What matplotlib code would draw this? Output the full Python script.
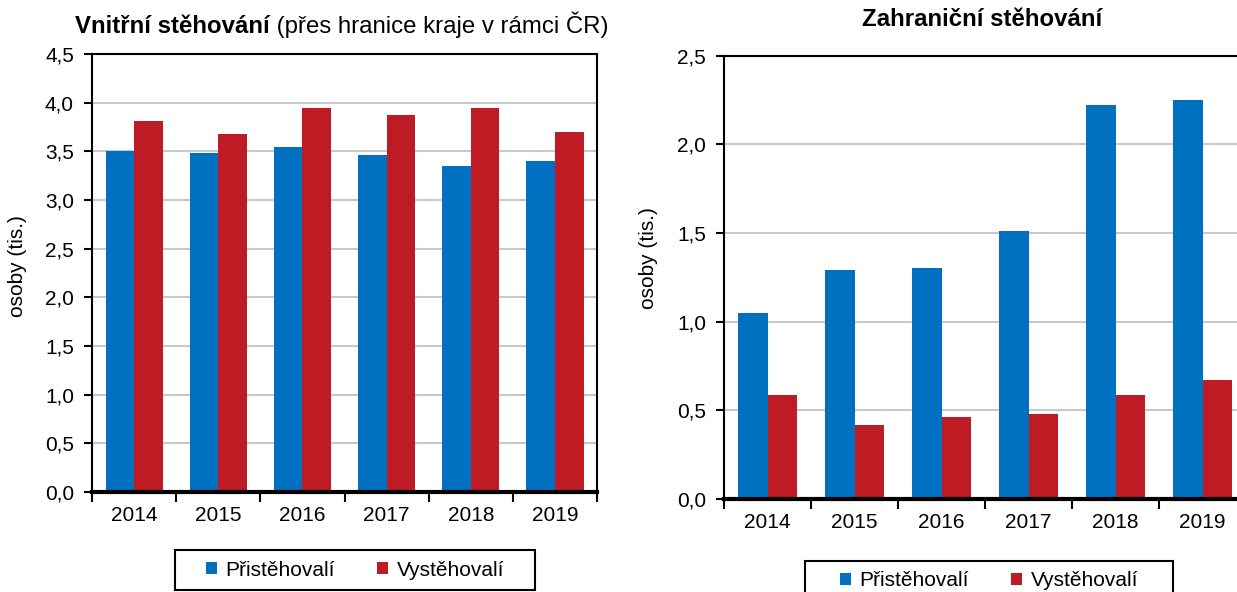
"""Vnitřní a zahraniční stěhování 2014-2019, two bar panels side by side."""

import matplotlib
matplotlib.use("Agg")
import matplotlib.pyplot as plt
from matplotlib.patches import Patch, Rectangle
from matplotlib.ticker import FuncFormatter, MultipleLocator, FixedLocator

plt.rcParams["font.family"] = ["Liberation Sans", "DejaVu Sans"]

YEARS = ["2014", "2015", "2016", "2017", "2018", "2019"]
SERIES = ["Přistěhovalí", "Vystěhovalí"]

# values in thousands of persons
internal_in = [3.50, 3.48, 3.54, 3.46, 3.35, 3.40]
internal_out = [3.81, 3.68, 3.95, 3.87, 3.94, 3.70]
foreign_in = [1.05, 1.29, 1.30, 1.51, 2.22, 2.25]
foreign_out = [0.585, 0.42, 0.46, 0.48, 0.585, 0.67]

BLUE = "#0070c0"
RED = "#be1b24"
GRID = "#c8c8c8"
FS = 15
TITLE_FS = 17.3
W, H = 1237, 592


def comma(value, _pos=None):
    return f"{value:.1f}".replace(".", ",")


def draw_panel(ax, first, second, ymax, width):
    xs = range(len(YEARS))
    ax.bar([x - width / 2 for x in xs], first, width, color=BLUE, zorder=3)
    ax.bar([x + width / 2 for x in xs], second, width, color=RED, zorder=3)
    ax.set_xlim(-0.5, len(YEARS) - 0.5)
    ax.set_ylim(0, ymax)
    ax.yaxis.set_major_locator(MultipleLocator(0.5))
    ax.yaxis.set_major_formatter(FuncFormatter(comma))
    ax.grid(axis="y", color=GRID, linewidth=1.5, zorder=0)
    ax.set_axisbelow(True)

    # tick marks between categories, labels centred under the bars
    ax.xaxis.set_major_locator(FixedLocator([i - 0.5 for i in range(len(YEARS) + 1)]))
    ax.xaxis.set_minor_locator(FixedLocator(list(xs)))
    ax.set_xticklabels([])
    ax.set_xticklabels(YEARS, minor=True)
    ax.tick_params(axis="x", which="major", direction="out", length=7, width=1.5)
    ax.tick_params(axis="x", which="minor", length=0, pad=10, labelsize=FS)
    ax.tick_params(axis="y", direction="out", length=6, width=1.5, pad=7, labelsize=FS)

    for side in ("left", "right", "top"):
        ax.spines[side].set_linewidth(1.5)
        ax.spines[side].set_color("black")
        ax.spines[side].set_zorder(5)
    ax.spines["bottom"].set_linewidth(3)
    ax.spines["bottom"].set_zorder(5)


def legend_box(fig, x0, y0, x1, y1):
    # frame in pixel coordinates of the reference, legend centred inside
    fig.patches.append(Rectangle((x0 / W, 1 - y1 / H), (x1 - x0) / W, (y1 - y0) / H,
                                 transform=fig.transFigure, fill=False,
                                 edgecolor="black", linewidth=1.5))
    handles = [Patch(facecolor=BLUE), Patch(facecolor=RED)]
    fig.legend(handles, SERIES, loc="center",
               bbox_to_anchor=((x0 + x1) / 2 / W, 1 - (y0 + y1) / 2 / H),
               ncol=2, fontsize=FS, frameon=False,
               handlelength=0.55, handleheight=0.55, handletextpad=0.4,
               columnspacing=2.0, borderpad=0, borderaxespad=0)


fig = plt.figure(figsize=(W / 100, H / 100), dpi=100)

ax1 = fig.add_axes([0.0744, 0.1689, 0.4083, 0.7399])
draw_panel(ax1, internal_in, internal_out, 4.5, 0.34)

ax2 = fig.add_axes([0.5853, 0.1571, 0.4220, 0.7488])
draw_panel(ax2, foreign_in, foreign_out, 2.5, 0.335)

# titles
t1 = fig.text(75 / W, 1 - 33 / H, "Vnitřní stěhování", fontsize=TITLE_FS,
              fontweight="bold", ha="left", va="baseline")
ax1.annotate(" (přes hranice kraje v rámci ČR)", xy=(1, 0), xycoords=t1,
             fontsize=TITLE_FS, ha="left", va="bottom")
fig.text(982 / W, 1 - 19 / H, "Zahraniční stěhování", fontsize=TITLE_FS,
         fontweight="bold", ha="center", va="center")

# y labels
fig.text(18 / W, 1 - 266 / H, "osoby (tis.)", rotation=90, fontsize=FS,
         ha="center", va="center")
fig.text(648 / W, 1 - 258 / H, "osoby (tis.)", rotation=90, fontsize=FS,
         ha="center", va="center")

legend_box(fig, 175, 550, 535, 590)
legend_box(fig, 805, 561, 1173, 601)

fig.savefig("out.png", dpi=100)
